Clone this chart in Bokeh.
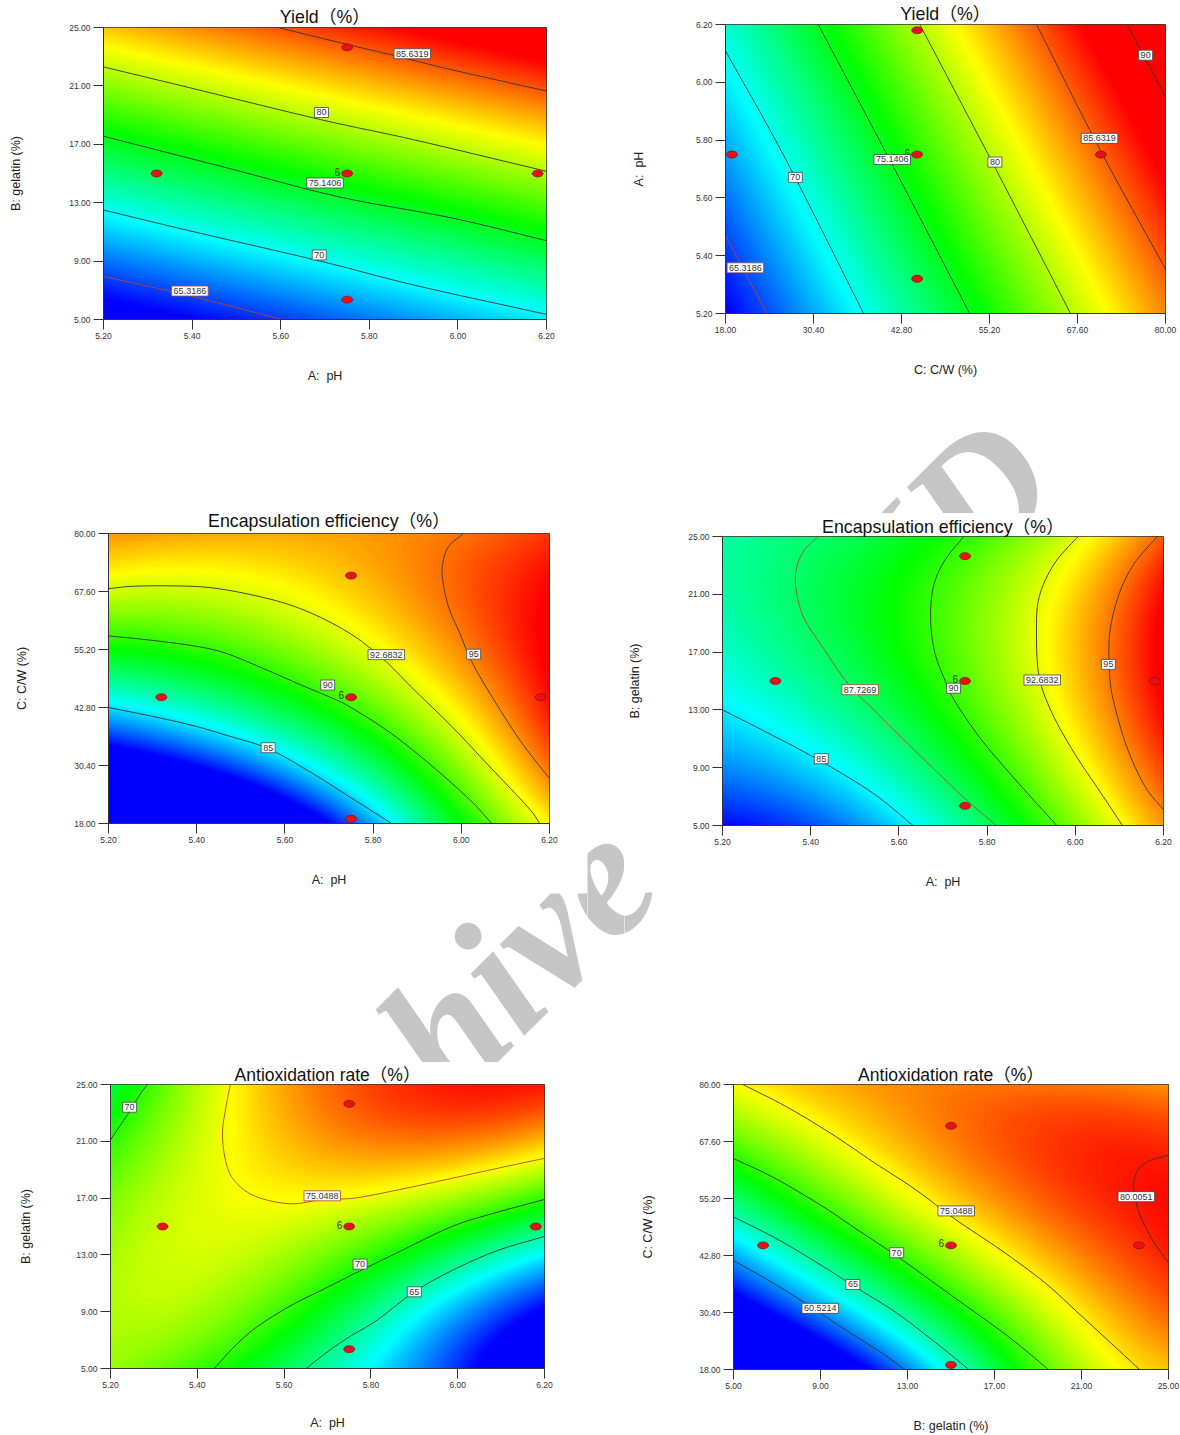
import numpy as np
from bokeh.embed import file_html
from bokeh.resources import INLINE
from bokeh.layouts import column, row
from bokeh.models import (ColumnDataSource, FixedTicker, Label, LinearColorMapper,
                          NumeralTickFormatter, Range1d)
from bokeh.plotting import figure
from bokeh.core.properties import value

PH = [5.20, 5.40, 5.60, 5.80, 6.00, 6.20]
GEL = [5.0, 9.0, 13.0, 17.0, 21.0, 25.0]
CW = [18.0, 30.4, 42.8, 55.2, 67.6, 80.0]

# response read at the tick crossings, first row = lowest y tick
yield_ph_gel = [
    [62.1, 63.5, 65.0, 66.4, 67.9, 69.3],
    [66.3, 67.7, 69.2, 70.6, 72.0, 73.5],
    [70.5, 72.0, 73.4, 74.9, 76.3, 77.7],
    [74.8, 76.2, 77.6, 79.1, 80.5, 82.0],
    [79.0, 80.4, 81.9, 83.3, 84.7, 86.2],
    [83.2, 84.6, 86.0, 87.5, 88.9, 90.4],
]
yield_cw_ph = [
    [63.4, 67.6, 71.8, 76.1, 80.3, 84.7],
    [64.8, 69.1, 73.3, 77.6, 81.8, 86.1],
    [66.3, 70.5, 74.8, 79.0, 83.3, 87.6],
    [67.8, 72.0, 76.2, 80.4, 84.8, 89.0],
    [69.2, 73.4, 77.7, 82.0, 86.3, 90.4],
    [70.7, 74.9, 79.2, 83.5, 87.8, 91.8],
]
enc_ph_cw = [
    [72.5, 74.5, 79.0, 84.5, 88.8, 93.3],
    [79.5, 81.8, 84.5, 87.7, 91.3, 95.3],
    [85.0, 86.2, 88.3, 91.0, 93.4, 96.8],
    [89.0, 89.8, 91.0, 92.8, 94.9, 97.2],
    [92.5, 92.5, 93.1, 94.0, 95.5, 97.0],
    [94.7, 94.3, 94.4, 94.7, 95.2, 96.2],
]
enc_ph_gel = [
    [81.5, 83.0, 84.6, 87.9, 91.4, 94.6],
    [83.8, 84.7, 86.7, 89.6, 92.4, 96.0],
    [85.0, 86.4, 88.5, 91.0, 93.6, 97.0],
    [86.3, 87.5, 89.3, 91.3, 94.0, 97.3],
    [86.7, 88.0, 89.3, 91.1, 93.9, 96.9],
    [86.8, 87.6, 88.7, 90.3, 92.7, 95.6],
]
anti_ph_gel = [
    [72.3, 71.0, 66.2, 63.0, 58.5, 53.0],
    [73.0, 73.5, 69.8, 66.0, 61.5, 56.0],
    [72.6, 74.0, 72.5, 70.0, 66.5, 63.5],
    [72.0, 74.0, 74.9, 74.9, 72.6, 70.2],
    [70.0, 74.0, 76.2, 78.3, 77.5, 76.2],
    [67.5, 73.5, 76.7, 79.5, 80.5, 80.5],
]
anti_gel_cw = [
    [48.0, 52.5, 60.8, 67.6, 72.9, 76.5],
    [55.0, 60.6, 66.0, 70.8, 75.1, 78.5],
    [60.9, 66.2, 70.6, 74.6, 78.6, 80.2],
    [66.5, 70.4, 74.3, 77.8, 79.5, 81.0],
    [71.3, 74.4, 77.0, 78.8, 79.5, 79.8],
    [74.7, 76.8, 77.5, 78.2, 78.5, 77.5],
]
colour_limits = {"yield": (63.5, 88.0), "enc": (81.5, 97.0), "anti": (57.0, 81.0)}
RAMP = [(0, 0, 255), (0, 255, 255), (0, 255, 0), (255, 255, 0), (255, 0, 0)]

# contour lines: (level, xs, ys, red?)
c1 = [
    ("85.6319", [5.594, 5.749, 5.86, 5.987, 6.2], [25, 23.85, 23.05, 22.1, 20.65], False),
    ("80", [5.2, 5.391, 5.689, 5.902, 6.2], [22.3, 20.9, 18.7, 17.3, 15.15], False),
    ("75.1406", [5.2, 5.477, 5.732, 5.987, 6.2], [17.55, 15.4, 13.4, 11.95, 10.4], False),
    ("70", [5.2, 5.391, 5.689, 5.902, 6.2], [12.5, 11.1, 9.0, 7.35, 5.35], False),
    ("65.3186", [5.2, 5.391, 5.603], [7.95, 6.65, 5.0], True),
]
c2 = [
    ("65.3186", [18, 23.83], [5.469, 5.2], True),
    ("70", [18, 26.54, 37.47], [6.109, 5.731, 5.2], False),
    ("75.1406", [31.07, 41.63, 52.41], [6.2, 5.709, 5.2], False),
    ("80", [45.38, 55.17, 66.62], [6.2, 5.743, 5.2], False),
    ("85.6319", [61.83, 70.79, 80], [6.2, 5.766, 5.354], False),
    ("90", [74.59, 80], [6.2, 5.95], False),
]
c3 = [
    ("85", [5.2, 5.295, 5.389, 5.466, 5.562, 5.663, 5.74, 5.842],
     [42.8, 41.0, 39.0, 36.9, 34.0, 28.7, 24.1, 18.0], False),
    ("90", [5.2, 5.295, 5.398, 5.466, 5.552, 5.637, 5.70, 5.748, 5.842, 5.936, 6.02, 6.069],
     [58.1, 57.2, 55.9, 54.4, 51.1, 47.6, 45.1, 42.9, 37.2, 30.1, 23.0, 18.0], False),
    ("92.6832", [5.2, 5.252, 5.338, 5.423, 5.509, 5.603, 5.68, 5.748, 5.795, 5.834, 5.894, 5.98, 6.065, 6.151, 6.178],
     [68.2, 68.7, 68.8, 68.5, 67.2, 65.0, 62.1, 58.6, 55.4, 52.2, 46.5, 38.6, 30.1, 21.5, 18.0], False),
    ("95", [6.005, 5.971, 5.958, 5.958, 5.971, 5.997, 6.022, 6.065, 6.133, 6.2],
     [80, 77.2, 73.6, 70.0, 64.3, 58.6, 52.9, 45.8, 35.8, 27.6], False),
]
c4 = [
    ("85", [5.2, 5.316, 5.426, 5.543, 5.632], [13, 11.2, 9.4, 7.2, 5], False),
    ("87.7269", [5.417, 5.384, 5.367, 5.367, 5.384, 5.426, 5.485, 5.543, 5.636, 5.745, 5.821],
     [25, 24.0, 22.7, 21.3, 19.4, 17.4, 14.8, 13.0, 10.2, 7.0, 5], True),
    ("90", [5.747, 5.703, 5.678, 5.672, 5.682, 5.708, 5.729, 5.788, 5.872, 5.958],
     [25, 23.3, 21.5, 19.2, 16.9, 14.8, 13.5, 10.9, 7.9, 5], False),
    ("92.6832", [6.006, 5.952, 5.918, 5.912, 5.918, 5.947, 5.998, 6.057, 6.107],
     [25, 23.1, 20.8, 18.3, 15.3, 12.8, 10.0, 7.3, 5], False),
    ("95", [6.186, 6.133, 6.099, 6.078, 6.078, 6.086, 6.116, 6.158, 6.2],
     [25, 23.1, 21.0, 18.3, 15.5, 13.7, 10.5, 7.7, 6.1], False),
]
c5 = [
    ("70", [5.2, 5.224, 5.246, 5.268, 5.285], [21.1, 22.2, 23.2, 24.3, 25], False),
    ("75.0488", [5.476, 5.466, 5.458, 5.467, 5.489, 5.536, 5.614, 5.688, 5.762, 5.866, 5.988, 6.092, 6.2],
     [25, 23.4, 21.5, 19.4, 18.1, 17.1, 16.6, 16.9, 17.0, 17.6, 18.4, 19.1, 19.8], True),
    ("70", [5.439, 5.484, 5.536, 5.614, 5.692, 5.77, 5.857, 5.987, 6.091, 6.2],
     [5, 6.5, 7.9, 9.4, 10.6, 11.8, 13.1, 15.0, 16.0, 16.9], False),
    ("65", [5.651, 5.701, 5.749, 5.814, 5.9, 5.987, 6.091, 6.2],
     [5, 6.2, 7.2, 8.4, 10.4, 11.9, 13.3, 14.3], False),
]
c6 = [
    ("60.5214", [5, 6.53, 8.15, 9.77, 11.81, 12.87], [41.7, 37.6, 32.9, 27.8, 21.6, 18], False),
    ("65", [5, 7.04, 9.09, 10.79, 12.5, 14.2, 15.82], [51.2, 46.3, 40.5, 35.4, 30.3, 24.2, 18], False),
    ("70", [5, 6.87, 9.09, 10.79, 12.5, 15.05, 17.6, 19.48], [63.9, 59.7, 53.5, 48.1, 42.7, 34, 25.3, 18], False),
    ("75.0488", [5.43, 7.38, 9.43, 11.47, 13.35, 15.22, 17.26, 19.31, 21.01, 23.67],
     [80, 75.3, 69.5, 63, 57.2, 50.6, 44.1, 36.9, 29.6, 18], False),
    ("80.0051", [25, 24.08, 23.57, 23.4, 23.65, 24.25, 25], [64.6, 63.3, 61.2, 57.5, 52.1, 46.3, 41.2], False),
]

# contour labels: (text, x, y, red?)
l1 = [("85.6319", 5.897, 23.2, False), ("80", 5.692, 19.18, False), ("75.1406", 5.70, 14.35, False),
      ("70", 5.687, 9.42, False), ("65.3186", 5.395, 6.95, True)]
l2 = [("90", 77.2, 6.094, False), ("85.6319", 70.7, 5.806, False), ("80", 55.96, 5.724, False),
      ("75.1406", 41.5, 5.733, False), ("70", 27.84, 5.671, False), ("65.3186", 20.8, 5.358, True)]
l3 = [("92.6832", 5.83, 54.1, False), ("95", 6.028, 54.2, False), ("90", 5.697, 47.6, False),
      ("85", 5.562, 34.2, False)]
l4 = [("87.7269", 5.512, 14.4, True), ("90", 5.724, 14.5, False), ("92.6832", 5.925, 15.07, False),
      ("95", 6.075, 16.15, False), ("85", 5.424, 9.62, False)]
l5 = [("70", 5.244, 23.4, False), ("75.0488", 5.688, 17.16, True), ("70", 5.775, 12.35, False),
      ("65", 5.9, 10.4, False)]
l6 = [("75.0488", 15.24, 52.5, False), ("70", 12.5, 43.4, False), ("65", 10.49, 36.5, False),
      ("60.5214", 8.99, 31.3, False), ("80.0051", 23.52, 55.6, False)]

# design points, centre point first
p_ph_gel = ([5.75, 5.32, 5.75, 5.75, 6.18], [15, 15, 23.64, 6.36, 15])
p_cw_ph = ([45, 18.9, 45, 45, 70.9], [5.75, 5.75, 6.18, 5.32, 5.75])
p_ph_cw = ([5.75, 5.32, 5.75, 5.75, 6.18], [45, 45, 71, 19, 45])
p_gel_cw = ([15, 6.36, 15, 15, 23.64], [45, 45, 71, 19, 45])
REPLICATES = "6"

SANS = "Liberation Sans, Noto Sans CJK SC"
WM = "#c6c6c6"


def ramp_palette():
    out = []
    for i in range(256):
        t = i / 255 * 4
        k = min(int(t), 3)
        f = t - k
        c = [round(a + (b - a) * f) for a, b in zip(RAMP[k], RAMP[k + 1])]
        out.append("#%02x%02x%02x" % tuple(c))
    return out


def shade(grid, w, h):
    """Resample the read grid to the frame's pixels for a continuous shading."""
    u = np.arange(6.0)
    ax = np.vander(np.linspace(0, 5, w), 4) @ np.linalg.pinv(np.vander(u, 4))
    ay = np.vander(np.linspace(0, 5, h), 4) @ np.linalg.pinv(np.vander(u, 4))
    return ay @ np.array(grid) @ ax.T


def rounded(xs, ys, n=8):
    """Catmull-Rom drawing of a read contour so that it is not kinked at its read points."""
    x = np.array(xs, float)
    y = np.array(ys, float)
    if len(x) < 3:
        return x, y
    px = np.r_[2 * x[0] - x[1], x, 2 * x[-1] - x[-2]]
    py = np.r_[2 * y[0] - y[1], y, 2 * y[-1] - y[-2]]
    ox, oy = [], []
    for i in range(1, len(px) - 2):
        for t in np.linspace(0, 1, n, endpoint=False):
            for src, dst in ((px, ox), (py, oy)):
                a, b, c, d = src[i - 1:i + 3]
                dst.append(0.5 * (2 * b + (c - a) * t + (2 * a - 5 * b + 4 * c - d) * t ** 2
                                  + (3 * b - a - 3 * c + d) * t ** 3))
    ox.append(x[-1])
    oy.append(y[-1])
    return ox, oy


def blank(w, h):
    p = figure(width=w, height=h, toolbar_location=None, output_backend="svg", frame_align=False,
               min_border=0, x_axis_type=None, y_axis_type=None,
               x_range=Range1d(0, 1), y_range=Range1d(0, 1))
    p.outline_line_color = None
    p.grid.visible = False
    return p


def panel(title, tsize, tstand, tx, xt, xlabel, yt, ylabel, grid, lim, cs, ls, pts, box, canvas, offs):
    left, right, top, bottom = box
    w, h = canvas
    p = figure(width=w, height=h, toolbar_location=None, output_backend="svg", frame_align=False,
               x_range=Range1d(xt[0], xt[-1]), y_range=Range1d(yt[0], yt[-1]),
               min_border_left=left, min_border_right=right,
               min_border_top=top, min_border_bottom=bottom)
    p.title.text = title
    p.title.text_font = SANS
    p.title.text_font_size = tsize
    p.title.text_font_style = "normal"
    p.title.text_color = "#111111"
    p.title.align = "center"
    p.title.offset = tx
    p.title.standoff = tstand
    p.grid.visible = False
    p.outline_line_color = "#333333"
    for ax, ticks, lab, off in ((p.xaxis[0], xt, xlabel, offs[0]), (p.yaxis[0], yt, ylabel, offs[1])):
        ax.ticker = FixedTicker(ticks=ticks)
        ax.formatter = NumeralTickFormatter(format="0.00")
        ax.major_label_text_font = SANS
        ax.major_label_text_font_size = "8.5px"
        ax.major_label_text_color = "#333333"
        ax.major_label_standoff = 3
        ax.major_tick_out = 10
        ax.major_tick_in = 0
        ax.minor_tick_line_color = None
        ax.major_tick_line_color = "#333333"
        ax.axis_line_color = "#333333"
        ax.axis_label = lab
        ax.axis_label_text_font = SANS
        ax.axis_label_text_font_size = "12.5px"
        ax.axis_label_text_font_style = "normal"
        ax.axis_label_text_color = "#222222"
        ax.axis_label_standoff = off
    fw, fh = w - left - right, h - top - bottom
    mapper = LinearColorMapper(palette=ramp_palette(), low=lim[0], high=lim[1])
    p.image(image=[shade(grid, fw, fh)], x=xt[0], y=yt[0], dw=xt[-1] - xt[0], dh=yt[-1] - yt[0],
            color_mapper=mapper)
    for _, xs, ys, red in cs:
        rx, ry = rounded(xs, ys)
        p.line(rx, ry, line_color="#b5403a" if red else "#333333", line_width=0.9)
    p.ellipse(pts[0], pts[1], width=11, height=7, width_units="screen", height_units="screen",
              fill_color="#e8101a", line_color="#8a1010", line_width=0.7)
    p.text([pts[0][0]], [pts[1][0]], text=[REPLICATES], x_offset=-7, text_align="right",
           text_baseline="middle", text_font=value(SANS), text_font_size="10px", text_color="#2c3a20",
           y_offset=-2)
    src = ColumnDataSource(dict(
        x=[a[1] for a in ls], y=[a[2] for a in ls], t=[a[0] for a in ls],
        bc=["#a8443c" if a[3] else "#444444" for a in ls]))
    p.text("x", "y", text="t", source=src, text_align="center", text_baseline="middle",
           text_font=value(SANS), text_font_size="9px", text_color="#333333",
           background_fill_color="white", border_line_color="bc", border_line_width=0.8,
           padding=2)
    return p


def mark(p, text, x, y, size):
    p.add_layout(Label(x=x, y=y, x_units="canvas", y_units="canvas", text=text, angle=45,
                       angle_units="deg", text_font="Liberation Serif", text_font_style="bold italic",
                       text_font_size=size, text_color=WM))


T1 = "Yield\uff08%\uff09"
T2 = "Encapsulation efficiency\uff08%\uff09"
T3 = "Antioxidation rate\uff08%\uff09"
XPH = "A:\u00a0 pH"

f1 = panel(T1, "17.8px", 2, -5, PH, XPH, GEL, "B: gelatin (%)", yield_ph_gel, colour_limits["yield"], c1, l1,
           p_ph_gel, (103, 41, 27, 186), (587, 505), (27, 43))
f2 = panel(T1, "17.8px", 1, -7, CW, "C: C/W (%)", PH, XPH, yield_cw_ph, colour_limits["yield"], c2, l2,
           p_cw_ph, (138, 15, 24, 87), (593, 400), (27, 47))
f3 = panel(T2, "17.8px", 5, -5, PH, XPH, CW, "C: C/W (%)", enc_ph_cw, colour_limits["enc"], c3, l3,
           p_ph_cw, (108, 38, 28, 70), (587, 388), (27, 42))
f4 = panel(T2, "17.8px", 0, -5, PH, XPH, GEL, "B: gelatin (%)", enc_ph_gel, colour_limits["enc"], c4, l4,
           p_ph_gel, (98, 17, 23, 67), (556, 379), (27, 43))
f5 = panel(T3, "17.5px", 0, -6, PH, XPH, GEL, "B: gelatin (%)", anti_ph_gel, colour_limits["anti"], c5, l5,
           p_ph_gel, (110, 56, 22, 67), (600, 373), (25, 40))
f6 = panel(T3, "17.5px", 0, -6, GEL, "B: gelatin (%)", CW, "C: C/W (%)", anti_gel_cw, colour_limits["anti"], c6, l6,
           p_gel_cw, (133, 12, 22, 65), (580, 373), (27, 41))

# the watermark shows only in the white gaps between the panels
gap_top = blank(593, 113)
gap_left = blank(587, 169)
gap_mid = blank(37, 549)
gap_right = blank(556, 170)
mark(gap_top, "ID", 367, 259, "178px")
mark(gap_left, "hive", 478, 243, "178px")
mark(gap_mid, "hive", 478 - 587, 623, "178px")
mark(gap_right, "hive", 478 - 624, 244, "178px")

page = column(row(column(f1, f3, gap_left),
                  column(f2, gap_top, row(gap_mid, column(f4, gap_right)))),
              row(f5, f6))
open("out.html", "w").write(file_html(page, INLINE))
